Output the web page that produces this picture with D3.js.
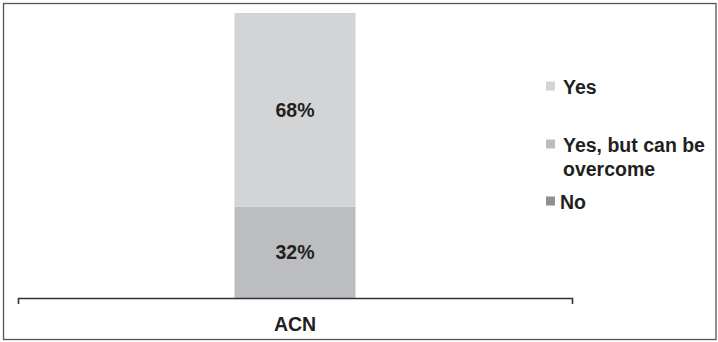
<!DOCTYPE html>
<html>
<head>
<meta charset="utf-8">
<script src="https://cdn.jsdelivr.net/npm/d3@7"></script>
<style>
  html, body { margin: 0; padding: 0; background: #fff; }
  svg { display: block; }
  text { font-family: "Liberation Sans", Arial, sans-serif; font-weight: bold; fill: #231f20; }
</style>
</head>
<body>
<svg id="chart" width="718" height="342"></svg>
<script>
const categories = ["ACN"];
const seriesNames = ["No", "Yes, but can be overcome", "Yes"];
const noValues = [0];
const yesButValues = [32];
const yesValues = [68];
const legendOrder = ["Yes", "Yes, but can be overcome", "No"];
const legendLines = [["Yes"], ["Yes, but can be", "overcome"], ["No"]];
const colors = { "Yes": "#d3d4d6", "Yes, but can be overcome": "#bcbdc0", "No": "#8f9093" };

const svg = d3.select("#chart");
const FS = "19.5px";

// outer frame
svg.append("rect").attr("x", 3.5).attr("y", 3.5).attr("width", 712.5).attr("height", 336)
  .attr("fill", "none").attr("stroke", "#555").attr("stroke-width", 1.3);

const x = d3.scaleBand().domain(categories).range([18, 572]).paddingInner(0.6415).paddingOuter(0.6415);
const y = d3.scaleLinear().domain([0, 100]).range([298, 13]);

const rows = categories.map((c, i) => ({
  cat: c,
  "No": noValues[i],
  "Yes, but can be overcome": yesButValues[i],
  "Yes": yesValues[i]
}));
const stack = d3.stack().keys(seriesNames)(rows);

const g = svg.append("g");
stack.forEach(layer => {
  g.selectAll(null).data(layer).enter().append("rect")
    .attr("x", d => x(d.data.cat))
    .attr("width", x.bandwidth())
    .attr("y", d => y(d[1]))
    .attr("height", d => y(d[0]) - y(d[1]))
    .attr("fill", colors[layer.key]);
  g.selectAll(null).data(layer.filter(d => d[1] - d[0] > 0)).enter().append("text")
    .attr("x", d => x(d.data.cat) + x.bandwidth() / 2)
    .attr("y", d => (y(d[0]) + y(d[1])) / 2)
    .attr("dy", "0.36em")
    .attr("text-anchor", "middle")
    .style("font-size", FS)
    .text(d => (d[1] - d[0]) + "%");
});

// axis
const axis = d3.axisBottom(x).tickSizeInner(0).tickSizeOuter(6).tickPadding(19);
const ax = svg.append("g").attr("transform", "translate(0,298)").call(axis);
ax.select(".domain").attr("stroke", "#333").attr("stroke-width", 1.6);
ax.selectAll(".tick text").style("font-size", FS)
  .style("font-family", "'Liberation Sans', Arial, sans-serif").style("font-weight", "bold").attr("fill", "#231f20");

// legend
const legY = [94, 152, 209];
const lg = svg.append("g");
legendOrder.forEach((k, i) => {
  lg.append("rect").attr("x", 546).attr("y", legY[i] - 12.5).attr("width", 9).attr("height", 9)
    .attr("fill", colors[k]);
  const tx = k === "No" ? 560 : 563;
  const t = lg.append("text").attr("x", tx).attr("y", legY[i]).style("font-size", FS);
  legendLines[i].forEach((line, j) => {
    t.append("tspan").attr("x", tx).attr("dy", j === 0 ? 0 : 24).text(line);
  });
});
</script>
</body>
</html>
